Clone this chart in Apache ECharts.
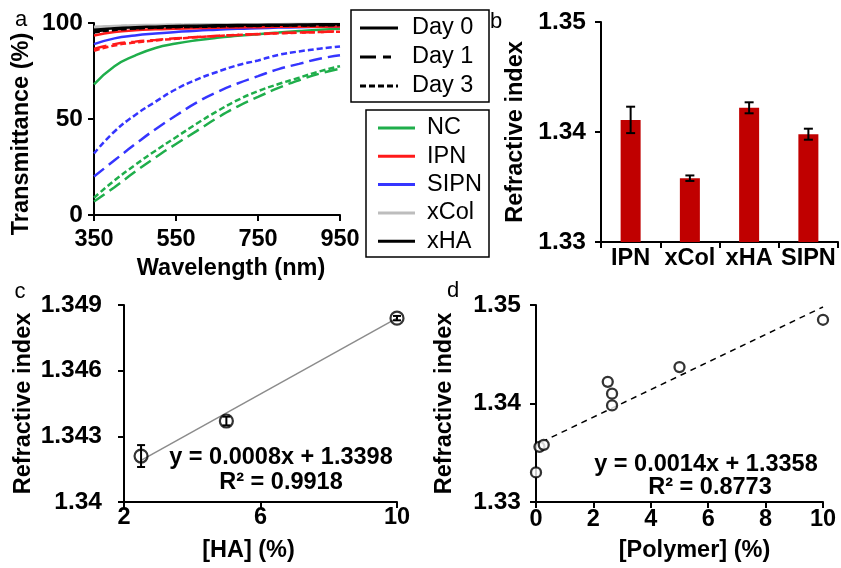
<!DOCTYPE html>
<html>
<head>
<meta charset="utf-8">
<script src="https://cdn.jsdelivr.net/npm/echarts@6/dist/echarts.min.js"></script>
<style>
  html, body { margin: 0; padding: 0; background: #fff; }
  #chart { width: 841px; height: 568px; }
</style>
</head>
<body>
<div id="chart"></div>
<script>
// ---- panel a: transmittance spectra (%) ----
const wavelength = [350, 400, 450, 500, 550, 600, 650, 700, 750, 800, 850, 900, 950];
const ncDay0 = [68, 77.5, 83, 87, 89.3, 91, 92.3, 93.3, 94.2, 95, 95.8, 96.5, 97];
const ncDay1 = [7, 14.5, 22.5, 30, 37, 43.7, 50.5, 56.5, 61.5, 66.2, 70.2, 73.6, 76.2];
const ncDay3 = [9, 18, 26, 33.5, 40.5, 47.5, 54, 59.8, 64.5, 68.2, 71.5, 74.8, 77.5];
const sipnDay0 = [89, 92, 93.5, 94.5, 95.3, 96, 96.5, 97, 97.3, 97.6, 97.8, 98, 98.2];
const sipnDay1 = [20, 28.5, 36.8, 44.7, 51.8, 58.5, 64, 68.5, 72.3, 76, 78.7, 81.4, 83.2];
const sipnDay3 = [32, 43.5, 52, 59, 65.5, 70.5, 74.5, 78, 80.5, 83.4, 85.2, 86.6, 87.8];
const ipnDay0 = [93.5, 95.3, 96.2, 96.7, 97, 97.3, 97.5, 97.7, 97.8, 98, 98, 98.1, 98.2];
const ipnDay1 = [86.5, 89, 90.3, 91.2, 92, 92.7, 93.3, 93.8, 94.3, 94.7, 95, 95.3, 95.6];
const ipnDay3 = [85.5, 88.3, 89.8, 90.9, 91.8, 92.6, 93.2, 93.8, 94.2, 94.6, 95, 95.3, 95.5];
const xcolDay0 = [98, 98.5, 98.8, 99, 99.1, 99.2, 99.3, 99.3, 99.4, 99.4, 99.5, 99.5, 99.5];
const xcolDay1 = [97.6, 98.2, 98.5, 98.7, 98.9, 99, 99.1, 99.2, 99.2, 99.3, 99.3, 99.4, 99.4];
const xcolDay3 = [97.8, 98.3, 98.6, 98.8, 99, 99.1, 99.2, 99.2, 99.3, 99.3, 99.4, 99.4, 99.4];
const xhaDay0 = [96.5, 97.3, 97.8, 98.1, 98.4, 98.6, 98.8, 98.9, 99, 99.1, 99.2, 99.3, 99.3];
const xhaDay1 = [95.6, 96.7, 97.3, 97.7, 98, 98.2, 98.4, 98.5, 98.6, 98.7, 98.8, 98.9, 99];
const xhaDay3 = [95.2, 96.4, 97.1, 97.5, 97.8, 98, 98.2, 98.4, 98.5, 98.6, 98.7, 98.8, 98.9];

const dayNames = ["Day 0", "Day 1", "Day 3"];
const materialNames = ["NC", "IPN", "SIPN", "xCol", "xHA"];

// ---- panel b: refractive index per material ----
const barCategories = ["IPN", "xCol", "xHA", "SIPN"];
const barValues = [1.3411, 1.3358, 1.3422, 1.3398];
const barErrors = [0.0012, 0.00025, 0.0005, 0.0005];

// ---- panel c: refractive index vs [HA] ----
const haConc = [2.5, 5, 10];
const haIndex = [1.3421, 1.3437, 1.3484];
const haError = [0.0005, 0.0002, 0.0001];
const haTrendX = [2.5, 10];
const haTrendY = [1.3419, 1.3484];

// ---- panel d: refractive index vs [Polymer] ----
const polyConc = [0, 0.12, 0.27, 2.5, 2.65, 2.65, 5, 10];
const polyIndex = [1.3330, 1.3356, 1.3358, 1.3422, 1.3410, 1.3398, 1.3437, 1.3485];
const polyTrendX = [0.2, 10];
const polyTrendY = [1.3361, 1.3498];

const FONT = "'Liberation Sans', Arial, sans-serif";
const TXT = 23.5;   // titles, x tick labels
const YTXT = 24.5;  // y tick labels
const GREEN = "#1fae4b", RED = "#ff1a1a", BLUE = "#3535ff", GRAY = "#bdbdbd", BLACK = "#000";
const DASH = { solid: "solid", day1: [13, 6], day3: [6, 3] };

const chart = echarts.init(document.getElementById("chart"));

function lbl(size, margin) {
  return { color: "#000", fontSize: size, fontWeight: "bold", fontFamily: FONT, margin: margin, interval: 0 };
}

function axisStyle(extra) {
  return Object.assign({
    axisLine: { show: true, onZero: false, lineStyle: { color: "#000", width: 2 } },
    axisTick: { show: true, length: 6, lineStyle: { color: "#000", width: 2 } },
    splitLine: { show: false },
    nameLocation: "middle",
    nameTextStyle: { color: "#000", fontSize: TXT, fontWeight: "bold", fontFamily: FONT }
  }, extra);
}

function nameStyle(padding) {
  return { color: "#000", fontSize: TXT, fontWeight: "bold", fontFamily: FONT, padding: padding };
}

function spectrum(data, color, dash, z) {
  return {
    type: "line", xAxisIndex: 0, yAxisIndex: 0,
    data: wavelength.map((w, i) => [w, data[i]]),
    smooth: true, symbol: "none", z: z,
    lineStyle: { color: color, width: 2.5, type: dash }
  };
}

function errorBars(cap) {
  return function (params, api) {
    const x = api.value(0), y = api.value(1), e = api.value(2);
    const hi = api.coord([x, y + e]);
    const lo = api.coord([x, y - e]);
    const style = { stroke: "#000", lineWidth: 2 };
    return {
      type: "group",
      children: [
        { type: "line", shape: { x1: hi[0], y1: hi[1], x2: lo[0], y2: lo[1] }, style: style },
        { type: "line", shape: { x1: hi[0] - cap, y1: hi[1], x2: hi[0] + cap, y2: hi[1] }, style: style },
        { type: "line", shape: { x1: lo[0] - cap, y1: lo[1], x2: lo[0] + cap, y2: lo[1] }, style: style }
      ]
    };
  };
}

// legend boxes for panel a
const legendGraphics = [];
legendGraphics.push({ type: "rect", shape: { x: 351, y: 10, width: 138, height: 92 },
  style: { fill: "#fff", stroke: "#000", lineWidth: 1.5 }, z: 10 });
[DASH.solid, [16, 7, 8, 7], DASH.day3].forEach((d, i) => {
  const y = 28 + i * 29;
  legendGraphics.push({ type: "line", shape: { x1: 360, y1: y, x2: 398, y2: y },
    style: { stroke: "#000", lineWidth: 3, lineDash: d === "solid" ? null : d }, z: 11 });
  legendGraphics.push({ type: "text", x: 412, y: y, z: 11,
    style: { text: dayNames[i], font: TXT + "px " + FONT, fill: "#000", verticalAlign: "middle" } });
});
legendGraphics.push({ type: "rect", shape: { x: 366, y: 110, width: 123, height: 147 },
  style: { fill: "#fff", stroke: "#000", lineWidth: 1.5 }, z: 10 });
[GREEN, RED, BLUE, GRAY, BLACK].forEach((c, i) => {
  const y = 128 + i * 28.3;
  legendGraphics.push({ type: "line", shape: { x1: 378, y1: y, x2: 415, y2: y },
    style: { stroke: c, lineWidth: 3 }, z: 11 });
  legendGraphics.push({ type: "text", x: 427, y: y, z: 11,
    style: { text: materialNames[i], font: TXT + "px " + FONT, fill: "#000", verticalAlign: "middle" } });
});

function label(text, x, y, size, bold) {
  return { type: "text", x: x, y: y, z: 12,
    style: { text: text, font: (bold ? "bold " : "") + size + "px " + FONT, fill: "#000",
      align: "center", verticalAlign: "middle" } };
}

const option = {
  backgroundColor: "#fff",
  animation: false,
  grid: [
    { left: 94, top: 23, width: 246, height: 192, outerBoundsMode: "none" },
    { left: 601, top: 22, width: 237, height: 220, outerBoundsMode: "none" },
    { left: 124, top: 305, width: 273, height: 197, outerBoundsMode: "none" },
    { left: 536, top: 305, width: 287, height: 197, outerBoundsMode: "none" }
  ],
  xAxis: [
    axisStyle({ type: "value", gridIndex: 0, min: 350, max: 950, interval: 200,
      name: "Wavelength (nm)", nameGap: 42, axisLabel: lbl(TXT, 13),
      nameTextStyle: nameStyle([0, 0, 0, 28]) }),
    axisStyle({ type: "category", gridIndex: 1, data: barCategories, axisLabel: lbl(TXT, 5) }),
    axisStyle({ type: "value", gridIndex: 2, min: 2, max: 10, interval: 4,
      name: "[HA] (%)", nameGap: 37, axisLabel: lbl(TXT, 4),
      nameTextStyle: nameStyle([0, 24, 0, 0]) }),
    axisStyle({ type: "value", gridIndex: 3, min: 0, max: 10, interval: 2,
      name: "[Polymer] (%)", nameGap: 37, axisLabel: lbl(TXT, 6),
      nameTextStyle: nameStyle([0, 0, 0, 30]) })
  ],
  yAxis: [
    axisStyle({ type: "value", gridIndex: 0, min: 0, max: 100, interval: 50,
      name: "Transmittance (%)", nameGap: 60, axisLabel: lbl(YTXT, 11),
      nameTextStyle: nameStyle([0, 30, 0, 0]) }),
    axisStyle({ type: "value", gridIndex: 1, min: 1.33, max: 1.35, interval: 0.01,
      name: "Refractive index", nameGap: 73, axisLabel: lbl(YTXT, 15) }),
    axisStyle({ type: "value", gridIndex: 2, min: 1.34, max: 1.349, interval: 0.003,
      name: "Refractive index", nameGap: 88, axisLabel: lbl(YTXT, 22) }),
    axisStyle({ type: "value", gridIndex: 3, min: 1.33, max: 1.35, interval: 0.01,
      name: "Refractive index", nameGap: 79, axisLabel: lbl(YTXT, 15) })
  ],
  series: [
    spectrum(ncDay1, GREEN, DASH.day1, 2),
    spectrum(ncDay3, GREEN, DASH.day3, 2),
    spectrum(sipnDay1, BLUE, DASH.day1, 2),
    spectrum(sipnDay3, BLUE, DASH.day3, 2),
    spectrum(ncDay0, GREEN, DASH.solid, 2),
    spectrum(ipnDay1, RED, DASH.day1, 3),
    spectrum(ipnDay3, RED, DASH.day3, 3),
    spectrum(sipnDay0, BLUE, DASH.solid, 3),
    spectrum(ipnDay0, RED, DASH.solid, 3),
    spectrum(xcolDay0, GRAY, DASH.solid, 4),
    spectrum(xcolDay1, GRAY, DASH.day1, 4),
    spectrum(xcolDay3, GRAY, DASH.day3, 4),
    spectrum(xhaDay0, BLACK, DASH.solid, 5),
    spectrum(xhaDay1, BLACK, DASH.day1, 5),
    spectrum(xhaDay3, BLACK, DASH.day3, 5),
    {
      type: "bar", xAxisIndex: 1, yAxisIndex: 1, data: barValues,
      barWidth: 20, itemStyle: { color: "#c00000" }
    },
    {
      type: "custom", xAxisIndex: 1, yAxisIndex: 1, z: 5,
      data: barCategories.map((c, i) => [i, barValues[i], barErrors[i]]),
      renderItem: errorBars(4.5)
    },
    {
      type: "line", xAxisIndex: 2, yAxisIndex: 2, symbol: "none", z: 2,
      data: haTrendX.map((x, i) => [x, haTrendY[i]]),
      lineStyle: { color: "#8c8c8c", width: 1.5 }
    },
    {
      type: "custom", xAxisIndex: 2, yAxisIndex: 2, z: 3,
      data: haConc.map((x, i) => [x, haIndex[i], haError[i]]),
      renderItem: errorBars(4)
    },
    {
      type: "scatter", xAxisIndex: 2, yAxisIndex: 2, z: 4, symbolSize: 13,
      data: haConc.map((x, i) => [x, haIndex[i]]),
      itemStyle: { color: "rgba(0,0,0,0)", borderColor: "#000", borderWidth: 2.2 }
    },
    {
      type: "line", xAxisIndex: 3, yAxisIndex: 3, symbol: "none", z: 2,
      data: polyTrendX.map((x, i) => [x, polyTrendY[i]]),
      lineStyle: { color: "#000", width: 1.5, type: [6, 5] }
    },
    {
      type: "scatter", xAxisIndex: 3, yAxisIndex: 3, z: 4, symbolSize: 10,
      data: polyConc.map((x, i) => [x, polyIndex[i]]),
      itemStyle: { color: "#fff", borderColor: "#000", borderWidth: 2.3 }
    }
  ],
  graphic: legendGraphics.concat([
    label("a", 21, 20, 22, false),
    label("b", 496, 22, 22, false),
    label("c", 20, 292, 22, false),
    label("d", 453, 291, 22, false),
    label("y = 0.0008x + 1.3398", 281, 458, TXT, true),
    label("R\u00b2 = 0.9918", 281, 483, TXT, true),
    label("y = 0.0014x + 1.3358", 706, 465, TXT, true),
    label("R\u00b2 = 0.8773", 710, 488, TXT, true)
  ])
};

chart.setOption(option);
</script>
</body>
</html>
